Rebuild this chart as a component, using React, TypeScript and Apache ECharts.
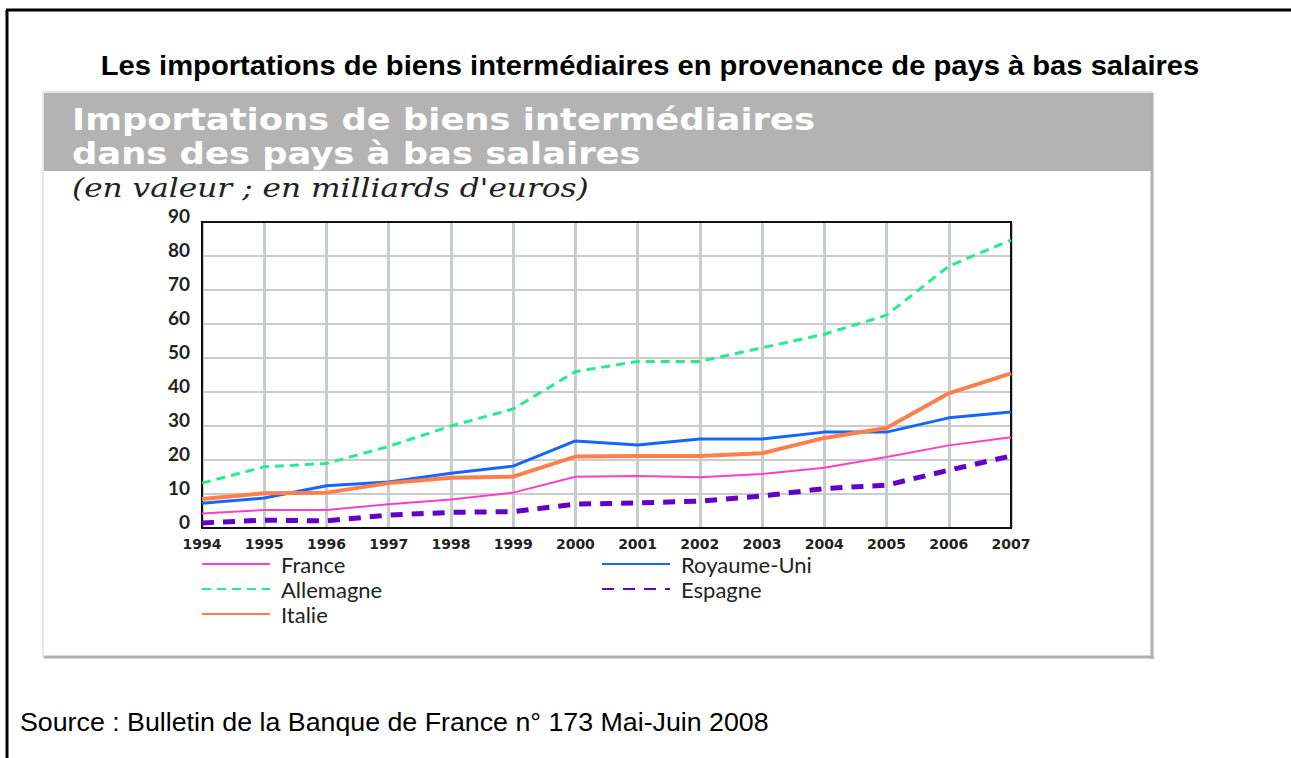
import React, { useEffect, useRef } from "react";
import * as echarts from "echarts";

const years = ["1994","1995","1996","1997","1998","1999","2000","2001","2002","2003","2004","2005","2006","2007"];
const yTicks = { min: 0, max: 90, interval: 10 };

const france = [4.3, 5.3, 5.3, 7.0, 8.4, 10.4, 15.1, 15.3, 14.9, 15.9, 17.7, 20.9, 24.3, 26.7];
const royaumeUni = [7.3, 8.8, 12.4, 13.5, 16.1, 18.2, 25.6, 24.4, 26.2, 26.2, 28.2, 28.2, 32.4, 34.1];
const allemagne = [13.2, 18.0, 19.0, 24.0, 30.0, 35.0, 46.0, 49.0, 49.0, 53.0, 57.0, 62.6, 77.0, 84.7];
const espagne = [1.5, 2.3, 2.1, 3.8, 4.6, 4.8, 7.0, 7.4, 7.9, 9.4, 11.6, 12.6, 17.0, 21.2];
const italie = [8.5, 10.2, 10.4, 13.2, 14.8, 15.1, 21.0, 21.2, 21.2, 22.0, 26.5, 29.4, 39.6, 45.5];

const mainTitle = "Les importations de biens intermédiaires en provenance de pays à bas salaires";
const headerLine1 = "Importations de biens intermédiaires";
const headerLine2 = "dans des pays à bas salaires";
const unitText = "(en valeur ; en milliards d'euros)";
const sourceText = "Source : Bulletin de la Banque de France n° 173 Mai-Juin 2008";

export default function App() {
  const ref = useRef<HTMLDivElement>(null);
  useEffect(() => {
    if (!ref.current) return;
    const chart = echarts.init(ref.current, null, { renderer: "svg" });
    const mk = (name: string, data: number[], color: string, width: number, type: any) => ({
      name,
      type: "line",
      data,
      symbol: "none",
      smooth: false,
      lineStyle: { color, width, type },
      itemStyle: { color },
      z: 3,
    });
    const legendBase = {
      orient: "vertical",
      top: 553,
      padding: 0,
      itemWidth: 68,
      itemHeight: 14,
      itemGap: 3,
      itemStyle: { opacity: 0 },
      textStyle: { fontFamily: "Lato", fontSize: 22, lineHeight: 18, color: "#222", padding: [0, 0, 0, 6] },
      selectedMode: false,
    };
    chart.setOption({
      animation: false,
      backgroundColor: "#ffffff",
      grid: {
        left: 202,
        right: 280,
        top: 222,
        bottom: 230,
        show: true,
        borderColor: "#111",
        borderWidth: 2,
        backgroundColor: "transparent",
        z: 2,
      },
      xAxis: {
        type: "category",
        data: years,
        boundaryGap: false,
        axisLine: { show: true, lineStyle: { color: "#111", width: 2 } },
        axisTick: { show: false },
        splitLine: { show: true, interval: 0, lineStyle: { color: "#c9cdc9", width: 3 } },
        axisLabel: {
          interval: 0,
          margin: 8,
          color: "#222",
          fontFamily: "DejaVu Sans",
          fontWeight: "bold",
          fontSize: 14,
          lineHeight: 15,
        },
      },
      yAxis: {
        type: "value",
        min: yTicks.min,
        max: yTicks.max,
        interval: yTicks.interval,
        axisLine: { show: true, lineStyle: { color: "#111", width: 2 } },
        axisTick: { show: false },
        splitLine: { show: true, lineStyle: { color: "#cccccc", width: 2 } },
        axisLabel: {
          margin: 12,
          color: "#222",
          fontFamily: "Lato",
          fontWeight: "bold",
          fontSize: 19,
          lineHeight: 14,
          verticalAlign: "bottom",
        },
      },
      legend: [
        { ...legendBase, left: 201, data: ["France", "Allemagne", "Italie"] },
        { ...legendBase, left: 601, data: ["Royaume-Uni", "Espagne"] },
      ],
      series: [
        mk("France", france, "#ff3fc8", 2, "solid"),
        mk("Royaume-Uni", royaumeUni, "#1466ff", 3, "solid"),
        mk("Allemagne", allemagne, "#22ee8c", 3, [9, 6]),
        mk("Espagne", espagne, "#6400c8", 5, [12, 9]),
        mk("Italie", italie, "#ff7f4c", 4, "solid"),
      ],
      graphic: [
        { type: "line", z: -10, shape: { x1: 7, y1: 758, x2: 7, y2: 10 }, style: { stroke: "#000", lineWidth: 3 } },
        { type: "line", z: -10, shape: { x1: 6, y1: 10, x2: 1291, y2: 10 }, style: { stroke: "#000", lineWidth: 3 } },
        { type: "rect", z: -10, shape: { x: 43, y: 92, width: 1109, height: 565 }, style: { fill: "#fff", stroke: "#cfcfcf", lineWidth: 1 } },
        { type: "line", z: -9, shape: { x1: 1152, y1: 93, x2: 1152, y2: 659 }, style: { stroke: "#b0b0b0", lineWidth: 3 } },
        { type: "line", z: -9, shape: { x1: 44, y1: 657, x2: 1154, y2: 657 }, style: { stroke: "#b0b0b0", lineWidth: 3 } },
        { type: "rect", z: -9, shape: { x: 44, y: 93, width: 1107, height: 78 }, style: { fill: "#b3b3b3" } },
        {
          type: "text", z: 5, x: 650, y: 66, scaleX: 1.08,
          style: { text: mainTitle, fill: "#000", font: "bold 27px 'Liberation Sans', Arial, sans-serif", textAlign: "center", textVerticalAlign: "middle" },
        },
        {
          type: "text", z: 5, x: 72, y: 119, scaleX: 1.14,
          style: { text: headerLine1, fill: "#fff", font: "bold 31px 'DejaVu Sans', sans-serif", textAlign: "left", textVerticalAlign: "middle" },
        },
        {
          type: "text", z: 5, x: 72, y: 153, scaleX: 1.14,
          style: { text: headerLine2, fill: "#fff", font: "bold 31px 'DejaVu Sans', sans-serif", textAlign: "left", textVerticalAlign: "middle" },
        },
        {
          type: "text", z: 5, x: 72, y: 188, scaleX: 1.2,
          style: { text: unitText, fill: "#222", font: "italic 26px 'DejaVu Serif', serif", textAlign: "left", textVerticalAlign: "middle" },
        },
        {
          type: "text", z: 5, x: 20, y: 722, scaleX: 1.03,
          style: { text: sourceText, fill: "#000", font: "26px 'Liberation Sans', Arial, sans-serif", textAlign: "left", textVerticalAlign: "middle" },
        },
      ],
    });
    return () => chart.dispose();
  }, []);
  return <div ref={ref} style={{ position: "absolute", left: 0, top: 0, width: 1291, height: 758 }} />;
}
